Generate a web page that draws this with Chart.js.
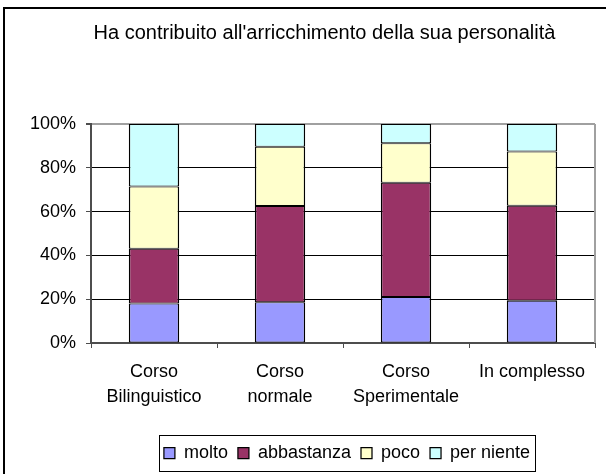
<!DOCTYPE html>
<html>
<head>
<meta charset="utf-8">
<script src="https://cdn.jsdelivr.net/npm/chart.js@4.4.0/dist/chart.umd.min.js"></script>
<style>
  body { margin: 0; background: #fff; }
</style>
</head>
<body>
<canvas id="grafico" width="606" height="474"></canvas>
<script>
const titolo = "Ha contribuito all'arricchimento della sua personalità";
const categorie = [['Corso', 'Bilinguistico'], ['Corso', 'normale'], ['Corso', 'Sperimentale'], 'In complesso'];
const molto = [18, 18.6, 21, 19.3];
const abbastanza = [25, 44, 52.2, 43.4];
const poco = [28.5, 27, 18, 24.7];
const perNiente = [28.5, 10.4, 8.8, 12.6];
const tickY = [0, 20, 40, 60, 80, 100];

const fontFamily = '"Liberation Sans", Arial, sans-serif';
const grigioAsse = '#4d4d4d';

const bordo = { top: 1, bottom: 1, left: 1.5, right: 1.5 };

const cornice = {
  id: 'cornice',
  beforeDraw: (chart) => {
    const ctx = chart.ctx;
    ctx.save();
    ctx.fillStyle = '#fff';
    ctx.fillRect(0, 0, chart.width, chart.height);
    ctx.strokeStyle = '#000';
    ctx.lineWidth = 2;
    ctx.strokeRect(4, 8, 700, 600);
    ctx.restore();
  },
  afterLayout: (chart) => {
    // il titolo e la legenda nel riferimento non sono centrati sul canvas
    chart.titleBlock.left += 27;
    chart.titleBlock.right += 27;
    chart.legend.left += 4;
    chart.legend.right += 4;
  },
  afterDraw: (chart) => {
    const ctx = chart.ctx;
    const area = chart.chartArea;
    ctx.save();
    ctx.strokeStyle = '#a0a0a0';
    ctx.lineWidth = 2;
    ctx.beginPath();
    ctx.moveTo(area.right, area.top);
    ctx.lineTo(area.right, area.bottom);
    ctx.stroke();
    // riquadro della legenda
    const boxes = chart.legend.legendHitBoxes;
    if (boxes && boxes.length) {
      const left = Math.min(...boxes.map((b) => b.left)) - 5;
      const right = Math.max(...boxes.map((b) => b.left + b.width)) + 5;
      const top = boxes[0].top - 9;
      const bottom = boxes[0].top + boxes[0].height + 9;
      ctx.strokeStyle = '#000';
      ctx.lineWidth = 1;
      ctx.strokeRect(Math.round(left) + 0.5, Math.round(top) + 0.5, Math.round(right - left), Math.round(bottom - top));
    }
    ctx.restore();
  },
};

const ctx = document.getElementById('grafico');
new Chart(ctx, {
  type: 'bar',
  data: {
    labels: categorie,
    datasets: [
      { label: 'molto', data: molto, backgroundColor: '#9999ff' },
      { label: 'abbastanza', data: abbastanza, backgroundColor: '#993366' },
      { label: 'poco', data: poco, backgroundColor: '#ffffcc' },
      { label: 'per niente', data: perNiente, backgroundColor: '#ccffff' },
    ].map((d) => ({
      ...d,
      borderColor: '#000',
      borderWidth: bordo,
      borderSkipped: false,
      barPercentage: 0.4,
      categoryPercentage: 1,
    })),
  },
  options: {
    responsive: false,
    animation: false,
    layout: { padding: { left: 0, right: 11, top: 0, bottom: 2 } },
    plugins: {
      title: {
        display: true,
        text: titolo,
        color: '#000',
        font: { family: fontFamily, size: 20, weight: 'normal' },
        padding: { top: 21.5, bottom: 78.5 },
      },
      legend: {
        position: 'bottom',
        fullSize: false,
        labels: {
          color: '#000',
          font: { family: fontFamily, size: 18 },
          boxWidth: 11,
          boxHeight: 11,
          padding: 10,
        },
      },
      tooltip: { enabled: false },
    },
    scales: {
      x: {
        stacked: true,
        afterFit: (scale) => {
          scale.height = 91;
        },
        grid: {
          drawOnChartArea: false,
          drawTicks: true,
          tickLength: 5,
          color: grigioAsse,
          lineWidth: 1,
        },
        border: { color: grigioAsse, width: 2 },
        ticks: {
          color: '#000',
          padding: 11.5,
          maxRotation: 0,
          autoSkip: false,
          font: { family: fontFamily, size: 18, lineHeight: 25 / 18 },
        },
      },
      y: {
        stacked: true,
        min: 0,
        max: 100,
        afterFit: (scale) => {
          scale.width = 91;
        },
        afterBuildTicks: (scale) => {
          scale.ticks = tickY.map((v) => ({ value: v }));
        },
        grid: {
          color: (c) => (c.tick && c.tick.value === 100 ? '#a0a0a0' : '#000'),
          tickColor: grigioAsse,
          tickLength: 5,
          lineWidth: (c) => (c.tick && c.tick.value === 100 ? 2 : 1),
        },
        border: { color: grigioAsse, width: 2 },
        ticks: {
          color: '#000',
          padding: 10,
          font: { family: fontFamily, size: 18 },
          callback: (v) => v + '%',
        },
      },
    },
  },
  plugins: [cornice],
});
</script>
</body>
</html>
